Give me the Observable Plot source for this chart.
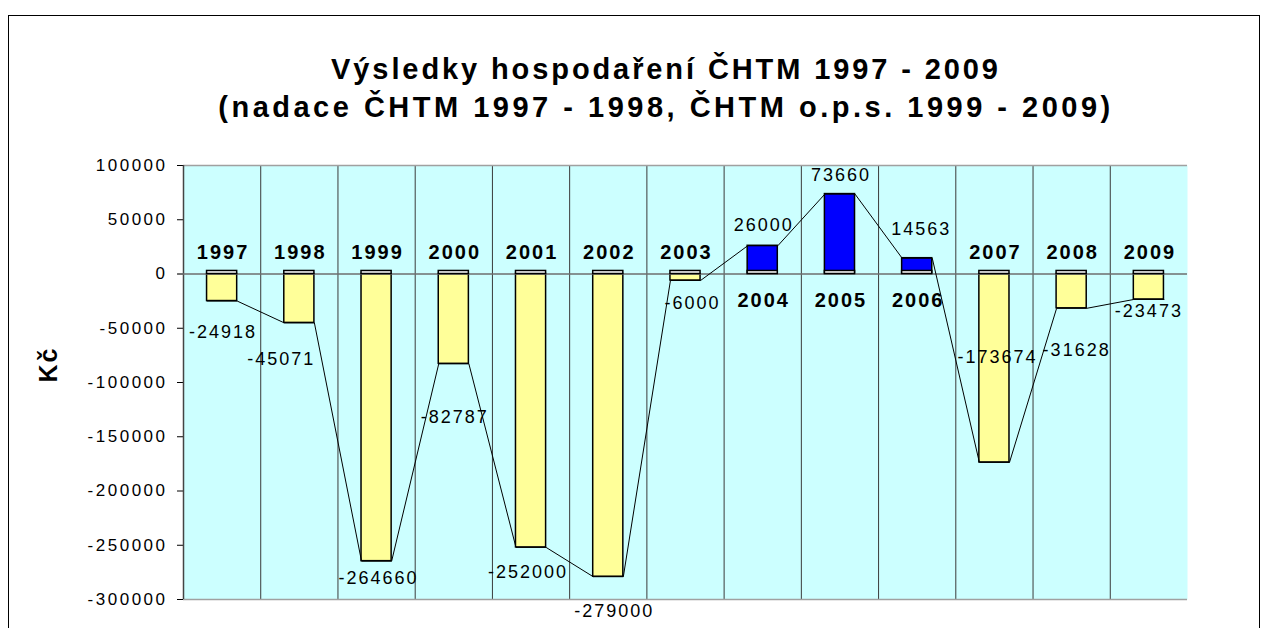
<!DOCTYPE html>
<html>
<head>
<meta charset="utf-8">
<script src="https://cdn.jsdelivr.net/npm/d3@7"></script>
<script src="https://cdn.jsdelivr.net/npm/@observablehq/plot@0.6"></script>
<style>
  html, body { margin: 0; padding: 0; background: #fff; width: 1264px; height: 628px; overflow: hidden; }
  body { position: relative; font-family: "Liberation Sans", Arial, sans-serif; }
  #frame { position: absolute; left: 8px; top: 15px; width: 1250px; height: 700px;
           border-left: 1px solid #000; border-top: 1px solid #000; border-right: 1px solid #000;
           z-index: 10; pointer-events: none; }
  #title { position: absolute; left: 0; top: 50px; width: 1332px; text-align: center;
           font-weight: bold; font-size: 29px; line-height: 38px; color: #000; }
  #title .l1 { letter-spacing: 2.9px; }
  #title .l2 { letter-spacing: 3.5px; }
  #chart { position: absolute; left: 0; top: 140px; }
  g[aria-label="y-axis tick label"] text { letter-spacing: 2.5px; }
  g[aria-label="text"][font-size="20"] text { letter-spacing: 2px; }
  g[aria-label="text"][font-size="18"] text { letter-spacing: 2px; }
  g[aria-label="text"][font-size="25"] text { letter-spacing: 2px; }
</style>
</head>
<body>
<div id="title"><span class="l1">Výsledky hospodaření ČHTM 1997 - 2009</span><br><span class="l2">(nadace ČHTM 1997 - 1998, ČHTM o.p.s. 1999 - 2009)</span></div>
<div id="chart"></div>
<div id="frame"></div>
<script>
// ---- data ----
const years = [1997, 1998, 1999, 2000, 2001, 2002, 2003, 2004, 2005, 2006, 2007, 2008, 2009];
const values = [-24918, -45071, -264660, -82787, -252000, -279000, -6000, 26000, 73660, 14563, -173674, -31628, -23473];
const yTicks = [100000, 50000, 0, -50000, -100000, -150000, -200000, -250000, -300000];
const yDomain = [-300000, 100000];
const unitLabel = "Kč";

// ---- layout (pixel nudges for the value labels, relative to bar end) ----
const labelNudge = [[1, 31], [-18, 36], [2, 17], [1, 53], [-3, 25], [6, 35], [7, 23],
                    [1, -21], [1, -19], [4, -29], [3, -105], [5, 42], [0, 12]];

const data = years.map((year, i) => ({year, value: values[i]}));
const half = 0.195;
const linePts = data.flatMap(d => [{x: d.year - half, y: d.value}, {x: d.year + half, y: d.value}]);
const bounds = years.slice(0, -1).map(y => y + 0.5);
const xDomain = [years[0] - 0.5, years[years.length - 1] + 0.5];

const font = '"Liberation Sans", Arial, sans-serif';

const valueLabelMarks = data.map((d, i) => Plot.text([d], {
  x: "year", y: "value", text: d => String(d.value),
  dx: labelNudge[i][0], dy: labelNudge[i][1],
  fontSize: 18, fill: "#000"
}));

const chart = Plot.plot({
  width: 1264,
  height: 488,
  marginTop: 25,
  marginBottom: 29,
  marginLeft: 183,
  marginRight: 77,
  style: {fontFamily: font, fontSize: "17px", color: "#000", background: "transparent", overflow: "visible"},
  x: {type: "linear", domain: xDomain, axis: null},
  y: {domain: yDomain, ticks: yTicks, tickFormat: d => String(d), tickSize: 6, tickPadding: 10, label: null},
  marks: [
    Plot.frame({fill: "#ccffff", stroke: null}),
    Plot.ruleX(bounds, {stroke: "#3a3a3a", strokeWidth: 1}),
    Plot.ruleY([yDomain[1], yDomain[0]], {stroke: "#a0a0a0", strokeWidth: 1.5}),
    Plot.ruleX([xDomain[0]], {stroke: "#444", strokeWidth: 1.5}),
    Plot.rectY(data, {
      x1: d => d.year - half, x2: d => d.year + half, y1: 0, y2: "value",
      fill: d => d.value >= 0 ? "#0000ff" : "#ffff99", stroke: "#000", strokeWidth: 1.5
    }),
    Plot.ruleY([0], {stroke: "#6e6e6e", strokeWidth: 1.5, x1: xDomain[0] - 0.07, x2: xDomain[1]}),
    Plot.rectY(data, {
      x1: d => d.year - half, x2: d => d.year + half, y1: 0, y2: 2800,
      fill: "#fff", stroke: "#000", strokeWidth: 1.5
    }),
    Plot.line(linePts, {x: "x", y: "y", stroke: "#000", strokeWidth: 1}),
    Plot.text(data.filter(d => d.value < 0), {
      x: "year", y: 0, text: d => String(d.year), dy: -21, dx: 1,
      fontSize: 20, fontWeight: "bold", fill: "#000"
    }),
    Plot.text(data.filter(d => d.value >= 0), {
      x: "year", y: 0, text: d => String(d.year), dy: 27, dx: 1,
      fontSize: 20, fontWeight: "bold", fill: "#000"
    }),
    ...valueLabelMarks,
    Plot.text([unitLabel], {
      frameAnchor: "left", dx: -135, rotate: -90, text: d => d,
      fontSize: 25, fontWeight: "bold", fill: "#000"
    })
  ]
});
document.getElementById("chart").appendChild(chart);
</script>
</body>
</html>
